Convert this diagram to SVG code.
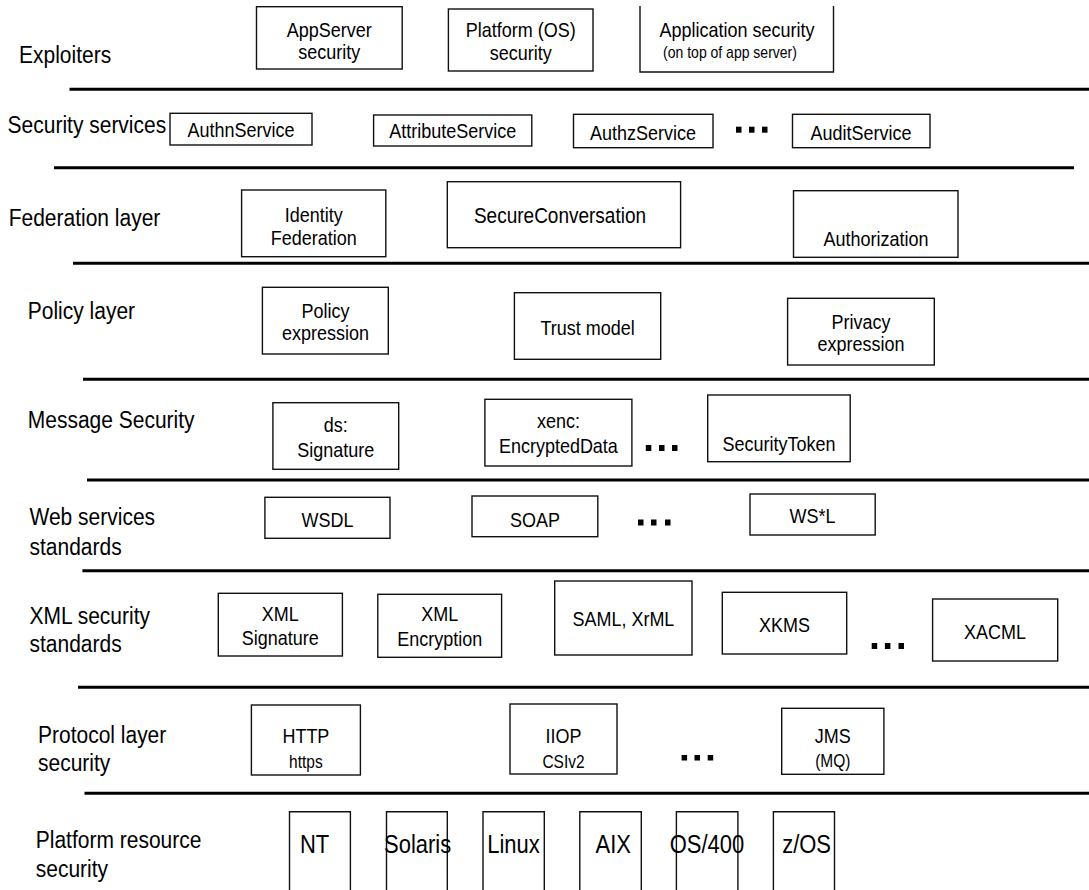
<svg xmlns="http://www.w3.org/2000/svg" width="1089" height="890" viewBox="0 0 1089 890">
<style>
text{font-family:"Liberation Sans",Arial,sans-serif;fill:#000}
.lbl{font-size:21px}
.t{font-size:18px;text-anchor:middle}
.s{font-size:14px;text-anchor:middle}
.m{font-size:15.5px;text-anchor:middle}
.p{font-size:22px;text-anchor:middle}
.box{fill:#fff;stroke:#111;stroke-width:1.4}
.open{fill:none;stroke:#111;stroke-width:1.4}
.rule{stroke:#000;stroke-width:3;fill:none}
.dot{fill:#000}
</style>
<rect width="1089" height="890" fill="#fff"/>
<g id="layer-rules">
<line class="rule" x1="69.5" y1="89.3" x2="1089" y2="89.3"/>
<line class="rule" x1="54" y1="167.7" x2="1074" y2="167.7"/>
<line class="rule" x1="73" y1="263.3" x2="1089" y2="263.3"/>
<line class="rule" x1="83" y1="379.3" x2="1089" y2="379.3"/>
<line class="rule" x1="87" y1="480" x2="1089" y2="480"/>
<line class="rule" x1="82.4" y1="570.7" x2="1089" y2="570.7"/>
<line class="rule" x1="78" y1="687.3" x2="1089" y2="687.3"/>
<line class="rule" x1="84.5" y1="793.3" x2="1089" y2="793.3"/>
</g>
<g id="layer-labels">
<text class="lbl" transform="translate(19,62.7) scale(1,1.15)">Exploiters</text>
<text class="lbl" transform="translate(7.6,133.3) scale(1,1.15)">Security services</text>
<text class="lbl" transform="translate(8.7,225.7) scale(1,1.15)">Federation layer</text>
<text class="lbl" transform="translate(27.8,319.3) scale(1,1.15)">Policy layer</text>
<text class="lbl" transform="translate(27.8,427.7) scale(1,1.15)">Message Security</text>
<text class="lbl" transform="translate(29.5,525) scale(1,1.15)">Web services</text>
<text class="lbl" transform="translate(29.5,555) scale(1,1.15)">standards</text>
<text class="lbl" transform="translate(29.5,624.3) scale(1,1.15)">XML security</text>
<text class="lbl" transform="translate(29.5,651.7) scale(1,1.15)">standards</text>
<text class="lbl" transform="translate(38,743) scale(1,1.15)">Protocol layer</text>
<text class="lbl" transform="translate(38,771) scale(1,1.15)">security</text>
<text class="lbl" transform="translate(35.8,848.3) scale(1,1.15)">Platform resource</text>
<text class="lbl" transform="translate(35.8,876.7) scale(1,1.15)">security</text>
</g>
<g id="ellipses">
<rect class="dot" x="736" y="126.7" width="5.5" height="6"/><rect class="dot" x="749" y="126.7" width="5.5" height="6"/><rect class="dot" x="762" y="126.7" width="5.5" height="6"/>
<rect class="dot" x="645.8" y="445" width="5.5" height="6"/><rect class="dot" x="659" y="445" width="5.5" height="6"/><rect class="dot" x="672" y="445" width="5.5" height="6"/>
<rect class="dot" x="638" y="519.5" width="5.5" height="6"/><rect class="dot" x="651" y="519.5" width="5.5" height="6"/><rect class="dot" x="665" y="519.5" width="5.5" height="6"/>
<rect class="dot" x="871.7" y="643" width="5.5" height="6"/><rect class="dot" x="884.9" y="643" width="5.5" height="6"/><rect class="dot" x="898.5" y="643" width="5.5" height="6"/>
<rect class="dot" x="681.6" y="755" width="5.5" height="5.5"/><rect class="dot" x="694.5" y="755" width="5.5" height="5.5"/><rect class="dot" x="707.7" y="755" width="5.5" height="5.5"/>
</g>
<g id="appserver-security"><rect class="box" x="256.5" y="6.7" width="145.7" height="62.3"/>
<text class="t" transform="translate(329.3,37) scale(1,1.15)">AppServer</text>
<text class="t" transform="translate(329.3,59) scale(1,1.15)">security</text></g>
<g id="platform-security"><rect class="box" x="448.4" y="9" width="144.6" height="62"/>
<text class="t" transform="translate(520.7,37) scale(1,1.15)">Platform (OS)</text>
<text class="t" transform="translate(520.7,60) scale(1,1.15)">security</text></g>
<g id="application-security"><path class="open" d="M640,6 V72 H833.5 V6"/>
<text class="t" transform="translate(737,36.7) scale(1,1.15)">Application security</text>
<text class="s" transform="translate(730,58.3) scale(1,1.15)">(on top of app server)</text></g>
<g id="authn-service"><rect class="box" x="170" y="113.3" width="142" height="31.7"/>
<text class="t" transform="translate(241,137.3) scale(1,1.15)">AuthnService</text></g>
<g id="attribute-service"><rect class="box" x="373.6" y="115" width="158.2" height="31"/>
<text class="t" transform="translate(452.7,137.5) scale(1,1.15)">AttributeService</text></g>
<g id="authz-service"><rect class="box" x="573.5" y="114.3" width="139.5" height="33.4"/>
<text class="t" transform="translate(643,140) scale(1,1.15)">AuthzService</text></g>
<g id="audit-service"><rect class="box" x="792.5" y="114.3" width="137.5" height="33.4"/>
<text class="t" transform="translate(861,140) scale(1,1.15)">AuditService</text></g>
<g id="identity-federation"><rect class="box" x="241.6" y="190" width="144.2" height="66.7"/>
<text class="t" transform="translate(313.7,221.7) scale(1,1.15)">Identity</text>
<text class="t" transform="translate(313.7,245) scale(1,1.15)">Federation</text></g>
<g id="secure-conversation"><rect class="box" x="447.3" y="181.7" width="233.3" height="66"/>
<text class="t" style="font-size:19px" transform="translate(560,222.7) scale(1,1.15)">SecureConversation</text></g>
<g id="authorization"><rect class="box" x="793.5" y="190.7" width="164.5" height="66.6"/>
<text class="t" transform="translate(876,245.7) scale(1,1.15)">Authorization</text></g>
<g id="policy-expression"><rect class="box" x="262.4" y="287.3" width="125.9" height="66.7"/>
<text class="t" transform="translate(325.4,317.8) scale(1,1.12)">Policy</text>
<text class="t" transform="translate(325.4,340) scale(1,1.12)">expression</text></g>
<g id="trust-model"><rect class="box" x="514.4" y="292.7" width="146.3" height="66.6"/>
<text class="t" transform="translate(587.5,335) scale(1,1.15)">Trust model</text></g>
<g id="privacy-expression"><rect class="box" x="787.6" y="298.3" width="146.7" height="66.7"/>
<text class="t" transform="translate(861,329) scale(1,1.12)">Privacy</text>
<text class="t" transform="translate(861,351.2) scale(1,1.12)">expression</text></g>
<g id="ds-signature"><rect class="box" x="272.9" y="402.7" width="125.8" height="66.6"/>
<text class="t" transform="translate(335.8,431.7) scale(1,1.15)">ds:</text>
<text class="t" transform="translate(335.8,457.3) scale(1,1.15)">Signature</text></g>
<g id="xenc-encrypteddata"><rect class="box" x="484.9" y="399.3" width="147" height="66.7"/>
<text class="t" transform="translate(558.4,428.3) scale(1,1.15)">xenc:</text>
<text class="t" transform="translate(558.4,452.7) scale(1,1.15)">EncryptedData</text></g>
<g id="security-token"><rect class="box" x="707.7" y="395" width="142.5" height="66.7"/>
<text class="t" transform="translate(779,450.7) scale(1,1.15)">SecurityToken</text></g>
<g id="wsdl"><rect class="box" x="264.9" y="497.3" width="125.1" height="41"/>
<text class="t" transform="translate(327.4,526.7) scale(1,1.15)">WSDL</text></g>
<g id="soap"><rect class="box" x="472" y="496" width="125.8" height="40.7"/>
<text class="t" transform="translate(535,526.7) scale(1,1.15)">SOAP</text></g>
<g id="wsl"><rect class="box" x="750" y="494" width="125.2" height="41"/>
<text class="t" transform="translate(812.6,522.7) scale(1,1.15)">WS*L</text></g>
<g id="xml-signature"><rect class="box" x="218.3" y="593.3" width="124.1" height="62.7"/>
<text class="t" transform="translate(280.3,621) scale(1,1.15)">XML</text>
<text class="t" transform="translate(280.3,645) scale(1,1.15)">Signature</text></g>
<g id="xml-encryption"><rect class="box" x="377.8" y="594.3" width="123.8" height="63"/>
<text class="t" transform="translate(439.7,621) scale(1,1.15)">XML</text>
<text class="t" transform="translate(439.7,646) scale(1,1.15)">Encryption</text></g>
<g id="saml-xrml"><rect class="box" x="554.7" y="581" width="137.3" height="74"/>
<text class="t" transform="translate(623.4,625.7) scale(1,1.15)">SAML, XrML</text></g>
<g id="xkms"><rect class="box" x="722.3" y="592.3" width="124.4" height="61.7"/>
<text class="t" transform="translate(784.5,632.3) scale(1,1.15)">XKMS</text></g>
<g id="xacml"><rect class="box" x="932.6" y="599" width="125.1" height="62"/>
<text class="t" transform="translate(995,639.3) scale(1,1.15)">XACML</text></g>
<g id="http"><rect class="box" x="251.4" y="705" width="109" height="70"/>
<text class="t" transform="translate(305.9,743) scale(1,1.15)">HTTP</text>
<text class="m" transform="translate(305.9,768) scale(1,1.15)">https</text></g>
<g id="iiop"><rect class="box" x="510" y="704" width="107" height="70"/>
<text class="t" transform="translate(563.5,743) scale(1,1.15)">IIOP</text>
<text class="m" transform="translate(563.5,768) scale(1,1.15)">CSIv2</text></g>
<g id="jms"><rect class="box" x="781.7" y="708.3" width="102.2" height="66"/>
<text class="t" transform="translate(832.8,743) scale(1,1.15)">JMS</text>
<text class="m" transform="translate(832.8,767) scale(1,1.15)">(MQ)</text></g>
<g id="nt"><path class="open" d="M289.5,895 V811.7 H350.4 V895"/>
<text class="p" transform="translate(314.6,853.3) scale(1,1.15)">NT</text></g>
<g id="solaris"><path class="open" d="M386.5,895 V811.7 H447.3 V895"/>
<text class="p" transform="translate(417.6,853.3) scale(1,1.15)">Solaris</text></g>
<g id="linux"><path class="open" d="M483,895 V811.7 H544.3 V895"/>
<text class="p" transform="translate(513.5,853.3) scale(1,1.15)">Linux</text></g>
<g id="aix"><path class="open" d="M579.8,895 V811.7 H641.3 V895"/>
<text class="p" transform="translate(613.3,853.3) scale(1,1.15)">AIX</text></g>
<g id="os400"><path class="open" d="M676.4,895 V811.7 H737.9 V895"/>
<text class="p" transform="translate(707,853.3) scale(1,1.15)">OS/400</text></g>
<g id="zos"><path class="open" d="M773.4,895 V811.7 H834.5 V895"/>
<text class="p" transform="translate(806.6,853.3) scale(1,1.15)">z/OS</text></g>
</svg>
